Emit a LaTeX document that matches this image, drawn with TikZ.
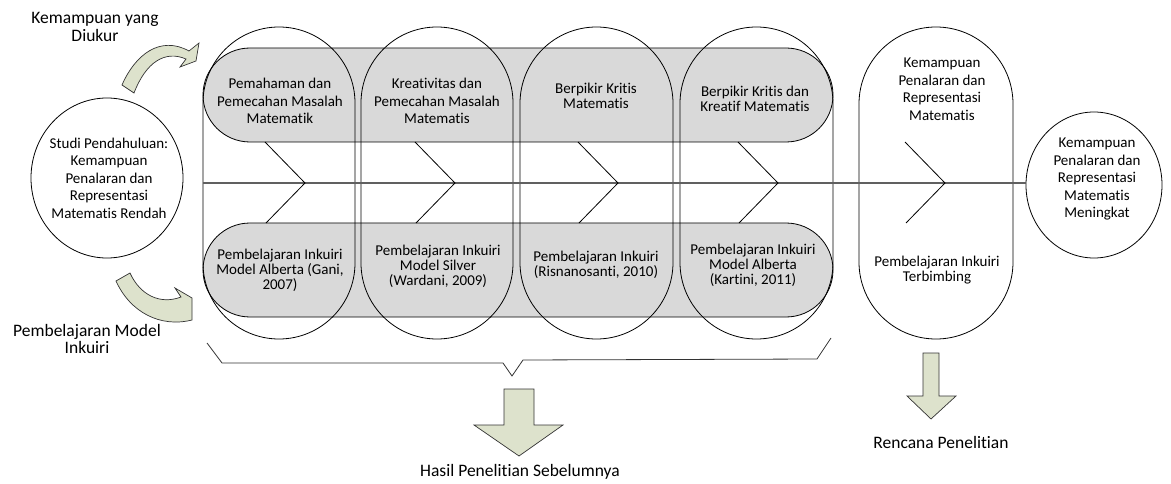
\documentclass[tikz,border=0pt]{standalone}
\usepackage{fontspec}
\setmainfont{Carlito}[Ligatures=NoCommon]
\usetikzlibrary{shapes.geometric}
\definecolor{bandgray}{RGB}{217,217,217}
\definecolor{arrowfill}{RGB}{221,226,204}
\definecolor{axisgray}{RGB}{96,96,96}
\begin{document}
\begin{tikzpicture}[x=1pt,y=-1pt,
  outline/.style={draw=black,line width=0.8pt},
  band/.style={outline,fill=bandgray},
  fatarrow/.style={draw=black!80,line width=0.7pt,fill=arrowfill,line join=miter},
  axis/.style={draw=axisgray,line width=1.4pt},
  chev/.style={draw=black,line width=0.8pt},
  brace/.style={draw=black!80,line width=0.8pt},
  txt/.style={align=center,inner sep=0pt,font=\fontsize{15}{17.5}\selectfont},
  txtA/.style={align=center,inner sep=0pt,font=\fontsize{15}{14.5}\selectfont},
  txtB/.style={align=center,inner sep=0pt,font=\fontsize{15}{15}\selectfont},
  big/.style={align=center,inner sep=0pt,font=\fontsize{17.5}{17.5}\selectfont}]
\useasboundingbox (0,0) rectangle (1171,484);

% grey bands of earlier abilities (top) and learning models (bottom)
\path[band] (250,48) -- (786,48) arc[start angle=270,end angle=450,radius=47]
  -- (250,142) arc[start angle=90,end angle=270,radius=47] -- cycle;
\path[band] (250,223) -- (786,223) arc[start angle=270,end angle=450,radius=47]
  -- (250,317) arc[start angle=90,end angle=270,radius=47] -- cycle;

% tall rounded columns, one per study
\foreach \l/\r in {203/355,361/513,520/673,680/833,859/1013}{
  \pgfmathsetmacro{\rad}{(\r-\l)/2}
  \path[outline] (\l,{27+\rad}) arc[start angle=180,end angle=360,radius=\rad]
    -- (\r,{339-\rad}) arc[start angle=0,end angle=180,radius=\rad] -- cycle;
}

% end circles
\node[outline,ellipse,minimum width=152,minimum height=160,inner sep=0pt] (pre) at (107,178) {};
\node[outline,ellipse,minimum width=136,minimum height=146,inner sep=0pt] (goal) at (1094,185) {};

% main axis and chevrons
\coordinate (axisstart) at (203,183);
\draw[axis] (axisstart) -- (goal.west |- axisstart);
\foreach \x in {265,415,578,738,905}{
  \draw[chev] (\x,142) -- ({\x+40},183) -- ({\x+1},223);
}

% texts of the circles
\node[txt] (pretext) at (109,178) {Studi Pendahuluan:\\Kemampuan\\Penalaran dan\\Representasi\\Matematis Rendah};
\node[txt] (goaltext) at (1097,179) {Kemampuan\\Penalaran dan\\Representasi\\Matematis\\Meningkat};

% top row texts
\node[txt] (t1) at (280,101) {Pemahaman dan\\Pemecahan Masalah\\Matematik};
\node[txt] (t2) at (437,101) {Kreativitas dan\\Pemecahan Masalah\\Matematis};
\node[txtA] (t3) at (596,96) {Berpikir Kritis\\Matematis};
\node[txtA] (t4) at (755,99) {Berpikir Kritis dan\\Kreatif Matematis};
\node[txt] (t5) at (942,89) {Kemampuan\\Penalaran dan\\Representasi\\Matematis};

% bottom row texts
\node[txtB] (b1) at (280,270) {Pembelajaran Inkuiri\\Model Alberta (Gani,\\2007)};
\node[txtB] (b2) at (438,266) {Pembelajaran Inkuiri\\Model Silver\\(Wardani, 2009)};
\node[txtB] (b3) at (596,265) {Pembelajaran Inkuiri\\(Risnanosanti, 2010)};
\node[txtB] (b4) at (753,265) {Pembelajaran Inkuiri\\Model Alberta\\(Kartini, 2011)};
\node[txtB] (b5) at (937,270) {Pembelajaran Inkuiri\\Terbimbing};

% outer labels
\node[big] (measured) at (95,27) {Kemampuan yang\\Diukur};
\node[big] (model) at (87,339) {Pembelajaran Model\\Inkuiri};

% curved block arrows
\path[fatarrow] (122,85) .. controls (135,55) and (160,35) .. (189,51) -- (199,43)
  -- (196,61) -- (180,67) -- (186,59) .. controls (165,50) and (146,62) .. (134,93) -- cycle;
\path[fatarrow] (116,281) .. controls (130,312) and (160,328) .. (192,320) -- (192,298)
  -- (175,288) -- (181,297) .. controls (160,305) and (140,295) .. (130,273) -- cycle;

% brace under the earlier studies
\coordinate (bl) at (207,343);
\coordinate (br) at (831,338);
\draw[brace] (bl) -- (222,363) -- (503,363) -- (512,376) -- (523,360) -- (817,359) -- (br);

% down arrows with their captions
\path[fatarrow] (504,389) -- (534,389) -- (534,425) -- (563,425) -- (519,456)
  -- (474,425) -- (504,425) -- cycle;
\node[big] (prior) at (520,472) {Hasil Penelitian Sebelumnya};
\path[fatarrow] (923,353) -- (939,353) -- (939,396) -- (956,396) -- (931,419)
  -- (907,396) -- (923,396) -- cycle;
\node[big] (plan) at (941,442) {Rencana Penelitian};
\end{tikzpicture}
\end{document}
